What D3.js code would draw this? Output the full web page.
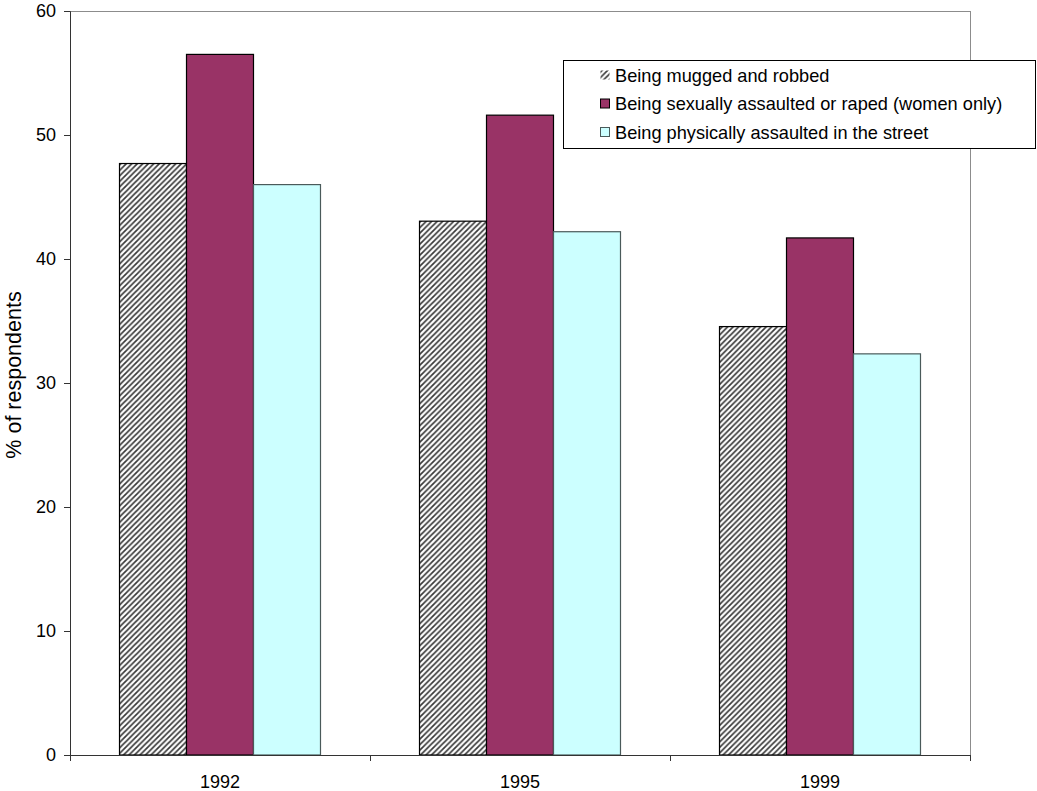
<!DOCTYPE html>
<html><head><meta charset="utf-8">
<script src="https://cdn.jsdelivr.net/npm/d3@7"></script>
<style>body{margin:0;background:#fff}svg{display:block}text{font-family:"Liberation Sans",Arial,sans-serif;fill:#000}</style>
</head><body>
<svg id="c" width="1037" height="791"></svg>
<script>
const years = ["1992", "1995", "1999"];
const seriesNames = ["Being mugged and robbed", "Being sexually assaulted or raped (women only)", "Being physically assaulted in the street"];
const mugged = [47.7, 43.05, 34.55];
const sexual = [56.5, 51.6, 41.7];
const physical = [46.0, 42.2, 32.35];
const yTicks = [0, 10, 20, 30, 40, 50, 60];
const yTitle = "% of respondents";

const values = [mugged, sexual, physical];
const W = 1037, H = 791;
const m = {top: 11, right: 67, bottom: 36, left: 70};
const w = W - m.left - m.right, h = H - m.top - m.bottom;
const svg = d3.select("#c");

const defs = svg.append("defs");
const pat = defs.append("pattern").attr("id", "hatch").attr("patternUnits", "userSpaceOnUse")
  .attr("width", 5.5).attr("height", 5.5);
pat.append("rect").attr("width", 5.5).attr("height", 5.5).attr("fill", "#fff");
pat.append("path").attr("d", "M-1,6.5 L6.5,-1 M-3.75,3.75 L3.75,-3.75 M1.75,9.25 L9.25,1.75").attr("stroke", "#3a3a3a").attr("stroke-width", 1.7);

const g = svg.append("g").attr("transform", `translate(${m.left},${m.top})`);
const x0 = d3.scaleBand().domain(years).range([0, w]).padding(0);
const x1 = d3.scaleBand().domain(d3.range(3)).range([0, x0.bandwidth()]).paddingInner(0).paddingOuter(0.739);
const y = d3.scaleLinear().domain([0, 60]).range([h, 0]);

const fills = ["url(#hatch)", "#993366", "#CCFFFF"];
const strokes = ["#000", "#000", "#4a5a5a"];

// frame top & right
g.append("line").attr("x1", 0).attr("x2", w).attr("y1", 0.5).attr("y2", 0.5).attr("stroke", "#8c8c8c");
g.append("line").attr("x1", w + 0.5).attr("x2", w + 0.5).attr("y1", 0).attr("y2", h).attr("stroke", "#8c8c8c");

years.forEach((yr, i) => {
  values.forEach((s, j) => {
    g.append("rect")
      .attr("x", x0(yr) + x1(j))
      .attr("y", y(s[i]))
      .attr("width", x1.bandwidth())
      .attr("height", h - y(s[i]))
      .attr("fill", fills[j]).attr("stroke", strokes[j]).attr("stroke-width", 1.2);
  });
});

// y axis
const ya = g.append("g").call(d3.axisLeft(y).tickValues(yTicks).tickSize(6).tickPadding(8));
ya.select(".domain").attr("stroke", "#333");
ya.selectAll(".tick line").attr("stroke", "#333");
ya.selectAll("text").attr("font-size", 18).attr("font-family", "Liberation Sans, Arial, sans-serif");

// x axis
const xa = g.append("g").attr("transform", `translate(0,${h})`)
  .call(d3.axisBottom(x0).tickSize(0).tickPadding(20));
xa.select(".domain").attr("stroke", "#333");
xa.selectAll("text").attr("font-size", 18).attr("dy", null).attr("dominant-baseline", "auto")
  .attr("y", 33).attr("font-family", "Liberation Sans, Arial, sans-serif");
const bounds = [0].concat(years.map(d => x0(d) + x0.bandwidth()));
g.append("g").selectAll("line").data(bounds).join("line")
  .attr("x1", d => d + 0.5).attr("x2", d => d + 0.5).attr("y1", h).attr("y2", h + 6).attr("stroke", "#333");

// y title
svg.append("text").attr("transform", `translate(21,${m.top + h / 2 - 8}) rotate(-90)`)
  .attr("text-anchor", "middle").attr("font-size", 21.5).text(yTitle);

// legend
const lg = svg.append("g").attr("transform", "translate(563,60)");
lg.append("rect").attr("x", 0.5).attr("y", 0.5).attr("width", 472).attr("height", 88).attr("fill", "#fff").attr("stroke", "#000");
seriesNames.forEach((n, j) => {
  const cy = 15 + j * 28.5;
  lg.append("rect").attr("x", 37.5).attr("y", cy - 4.5).attr("width", 9).attr("height", 9)
    .attr("fill", fills[j]).attr("stroke", j === 0 ? "none" : strokes[j]);
  lg.append("text").attr("x", 52).attr("y", cy + 6.5).attr("font-size", 18.2).text(n);
});
</script>
</body></html>
